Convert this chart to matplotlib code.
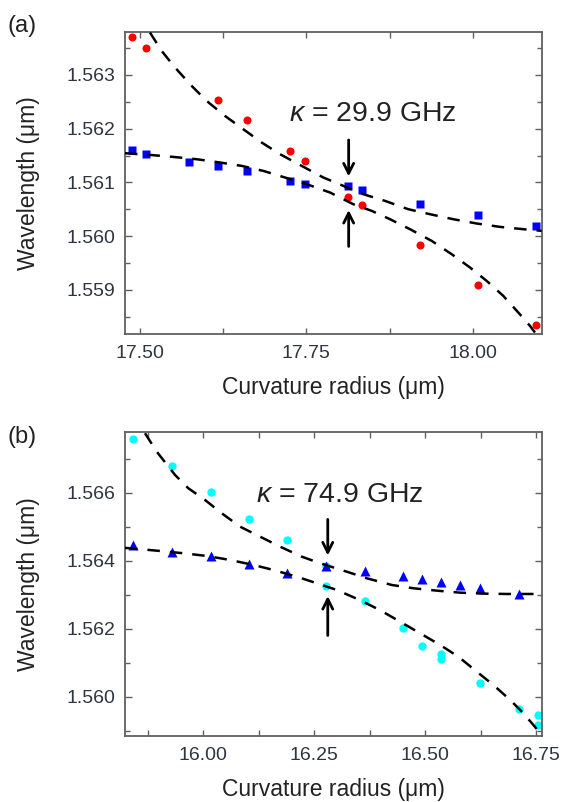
import matplotlib
matplotlib.use("Agg")
import matplotlib.pyplot as plt
from matplotlib.ticker import MultipleLocator, FormatStrFormatter

plt.rcParams['font.family'] = ['Liberation Sans', 'DejaVu Sans']
plt.rcParams['mathtext.fontset'] = 'custom'
plt.rcParams['mathtext.rm'] = 'Liberation Sans'
plt.rcParams['mathtext.it'] = 'Liberation Sans:italic'

# ---------------- Panel (a) data ----------------
a_red_x = [17.4875, 17.5090, 17.6168, 17.6613, 17.7254, 17.7480, 17.8121, 17.8341, 17.9208, 18.0075, 18.0947]
a_red_y = [1.563716, 1.563499, 1.562537, 1.562165, 1.561582, 1.561402, 1.560721, 1.560578, 1.559839, 1.559095, 1.558345]
a_blue_x = [17.4875, 17.5090, 17.5736, 17.6177, 17.6613, 17.7254, 17.7480, 17.8121, 17.8341, 17.9208, 18.0075, 18.0951]
a_blue_y = [1.561601, 1.561527, 1.561383, 1.561309, 1.561205, 1.561030, 1.560968, 1.560926, 1.560862, 1.560609, 1.560397, 1.560187]
a_fit_up_x = [17.5150, 17.5326, 17.5526, 17.5777, 17.6002, 17.6277, 17.6552, 17.6829, 17.7104, 17.7430, 17.7755,
              17.8356, 17.8682, 17.9032, 17.9358, 17.9708, 18.0060, 18.0410, 18.0760, 18.1037]
a_fit_up_y = [1.563791, 1.563448, 1.563140, 1.562797, 1.562518, 1.562239, 1.561992, 1.561744, 1.561527, 1.561309, 1.561093,
              1.560782, 1.560658, 1.560503, 1.560410, 1.560317, 1.560237, 1.560174, 1.560131, 1.560100]
a_fit_lo_x = [17.4775, 17.5150, 17.5500, 17.5852, 17.6202, 17.6528, 17.6853, 17.7179, 17.7505, 17.7855, 17.8206,
              17.8482, 17.8757, 17.9058, 17.9384, 17.9684, 17.9959, 18.0210, 18.0460, 18.0685, 18.0861, 18.0936]
a_fit_lo_y = [1.561545, 1.561513, 1.561476, 1.561433, 1.561372, 1.561309, 1.561216, 1.561093, 1.560968, 1.560814, 1.560596,
              1.560472, 1.560317, 1.560131, 1.559913, 1.559666, 1.559419, 1.559169, 1.558890, 1.558581, 1.558332, 1.558209]
a_label = "$\\mathit{\\kappa}$ = 29.9 GHz"

# ---------------- Panel (b) data ----------------
b_cyan_x = [15.841, 15.929, 16.017, 16.103, 16.189, 16.277, 16.277, 16.364, 16.450, 16.493, 16.536, 16.536, 16.624, 16.711, 16.755, 16.755]
b_cyan_y = [1.56759, 1.56679, 1.56601, 1.56523, 1.56461, 1.56385, 1.56324, 1.56281, 1.56203, 1.56150, 1.56125, 1.56110, 1.56039, 1.55964, 1.55946, 1.55917]
b_tri_x = [15.841, 15.929, 16.017, 16.103, 16.189, 16.277, 16.364, 16.450, 16.493, 16.536, 16.579, 16.624, 16.711]
b_tri_y = [1.56445, 1.56426, 1.56415, 1.56389, 1.56364, 1.56384, 1.56370, 1.56355, 1.56345, 1.56338, 1.56328, 1.56319, 1.56301]
b_fit_up_x = [15.8685, 15.8949, 15.9362, 15.9662, 16.0038, 16.0415, 16.0828, 16.1279, 16.1730, 16.2219, 16.2632,
              16.3234, 16.3685, 16.4249, 16.4736, 16.5264, 16.5789, 16.6315, 16.6842, 16.7368, 16.7630]
b_fit_up_y = [1.567747, 1.567206, 1.566521, 1.566129, 1.565785, 1.565394, 1.565000, 1.564706, 1.564412, 1.564118, 1.563924,
              1.563676, 1.563482, 1.563285, 1.563188, 1.563118, 1.563059, 1.563030, 1.563020, 1.563020, 1.563020]
b_fit_lo_x = [15.8234, 15.8347, 15.9023, 15.9549, 16.0077, 16.0602, 16.1128, 16.1579, 16.2106, 16.2558, 16.3009,
              16.3534, 16.3985, 16.4436, 16.4887, 16.5338, 16.5751, 16.6166, 16.6540, 16.6917, 16.7217, 16.7442, 16.7594]
b_fit_lo_y = [1.564374, 1.564365, 1.564285, 1.564218, 1.564138, 1.564021, 1.563874, 1.563726, 1.563529, 1.563335, 1.563138,
              1.562838, 1.562544, 1.562206, 1.561865, 1.561521, 1.561176, 1.560735, 1.560344, 1.559906, 1.559512, 1.559168, 1.558932]
b_label = "$\\mathit{\\kappa}$ = 74.9 GHz"

xlabel = "Curvature radius (\u03bcm)"
ylabel = "Wavelength (\u03bcm)"

TICK_COLOR = '#2e3540'
SPINE_COLOR = '#606060'
DASH = (0, (5, 4))

fig = plt.figure(figsize=(5.62, 8.02), dpi=100)
axA = fig.add_axes([0.2224, 0.5832, 0.7415, 0.3773])
axB = fig.add_axes([0.2224, 0.0827, 0.7415, 0.3791])


def style(ax, xmaj, xmin, ymaj, ymin, xfmt, yfmt):
    ax.xaxis.set_major_locator(MultipleLocator(xmaj))
    ax.xaxis.set_minor_locator(MultipleLocator(xmin))
    ax.yaxis.set_major_locator(MultipleLocator(ymaj))
    ax.yaxis.set_minor_locator(MultipleLocator(ymin))
    ax.xaxis.set_major_formatter(FormatStrFormatter(xfmt))
    ax.yaxis.set_major_formatter(FormatStrFormatter(yfmt))
    ax.tick_params(which='both', direction='in', top=True, right=True,
                   color=SPINE_COLOR, width=1.0, labelsize=14, labelcolor=TICK_COLOR)
    ax.tick_params(axis='x', which='major', length=4, pad=8)
    ax.tick_params(axis='x', which='minor', length=4)
    ax.tick_params(axis='y', which='major', length=5, pad=7)
    ax.tick_params(axis='y', which='minor', length=3.5)
    for s in ax.spines.values():
        s.set_color(SPINE_COLOR)
        s.set_linewidth(1.3)
    ax.set_xlabel(xlabel, fontsize=16.5, color='#222222', labelpad=10)
    ax.set_ylabel(ylabel, fontsize=16.5, color='#222222')
    ax.yaxis.set_label_coords(-0.205, 0.5)


# Panel (a)
axA.plot(a_red_x, a_red_y, 'o', color='#ff0000', ms=5.8, mec='none', zorder=2)
axA.plot(a_blue_x, a_blue_y, 's', color='#0000ff', ms=5.8, mec='none', zorder=2)
axA.plot(a_fit_up_x, a_fit_up_y, color='black', lw=1.8, ls=DASH, zorder=3)
axA.plot(a_fit_lo_x, a_fit_lo_y, color='black', lw=1.8, ls=DASH, zorder=3)
axA.set_xlim(17.4775, 18.1037)
axA.set_ylim(1.558176, 1.563806)
style(axA, 0.25, 0.125, 0.001, 0.0005, '%.2f', '%.3f')
axA.text(17.724, 1.562271, a_label, fontsize=20.5, color='#222222', va='center', ha='left')
axA.annotate('', xy=(17.8136, 1.561061), xytext=(17.8136, 1.561843),
             arrowprops=dict(arrowstyle='->', lw=2, color='black', mutation_scale=18), zorder=4)
axA.annotate('', xy=(17.8136, 1.560540), xytext=(17.8136, 1.559759),
             arrowprops=dict(arrowstyle='->', lw=2, color='black', mutation_scale=18), zorder=4)

# Panel (b)
axB.plot(b_cyan_x, b_cyan_y, 'o', color='#00ffff', ms=6, mec='none', zorder=2)
axB.plot(b_tri_x, b_tri_y, '^', color='#0000ff', ms=6.5, mec='none', zorder=2)
axB.plot(b_fit_up_x, b_fit_up_y, color='black', lw=1.8, ls=DASH, zorder=3)
axB.plot(b_fit_lo_x, b_fit_lo_y, color='black', lw=1.8, ls=DASH, zorder=3)
axB.set_xlim(15.8234, 16.763)
axB.set_ylim(1.558853, 1.567794)
style(axB, 0.25, 0.125, 0.002, 0.001, '%.2f', '%.3f')
axB.text(16.119, 1.565932, b_label, fontsize=20.5, color='#222222', va='center', ha='left')
axB.annotate('', xy=(16.2806, 1.564071), xytext=(16.2806, 1.565294),
             arrowprops=dict(arrowstyle='->', lw=2, color='black', mutation_scale=18), zorder=4)
axB.annotate('', xy=(16.2806, 1.563041), xytext=(16.2806, 1.561718),
             arrowprops=dict(arrowstyle='->', lw=2, color='black', mutation_scale=18), zorder=4)

fig.text(0.014, 0.9676, "(a)", fontsize=17, color='#222222', va='center', ha='left')
fig.text(0.014, 0.455, "(b)", fontsize=17, color='#222222', va='center', ha='left')

fig.savefig("out.png", dpi=100)
